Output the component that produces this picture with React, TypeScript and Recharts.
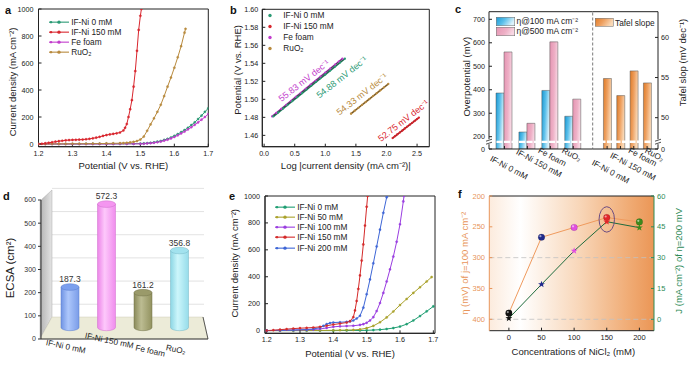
import React from 'react';
import {
  LineChart, Line, XAxis, YAxis, ReferenceArea, ReferenceLine, ReferenceDot,
  Legend, BarChart, Bar, ComposedChart, LabelList, CartesianGrid,
} from 'recharts';

const FONT = '"Liberation Sans", Arial, Helvetica, sans-serif';
const INK = '#222222';

/* ---------------- panel a : LSV curves (V vs RHE, mA cm-2) ---------------- */
const aIFNi0 = [[1.20,0],[1.22,0],[1.24,0],[1.26,0],[1.28,0],[1.30,0],[1.32,0],[1.34,1],[1.36,1],[1.38,1],[1.40,1],[1.42,1],[1.44,1],[1.46,2],[1.48,2],[1.50,3],[1.51,4],[1.52,6],[1.53,9],[1.54,12],[1.55,17],[1.56,22],[1.57,30],[1.58,38],[1.59,48],[1.60,60],[1.61,73],[1.62,88],[1.63,103],[1.64,120],[1.65,140],[1.66,160],[1.67,185],[1.68,210],[1.69,238],[1.70,265]];
const aIFNi150 = [[1.20,0],[1.21,2],[1.22,5],[1.23,9],[1.24,13],[1.25,17],[1.26,21],[1.27,24],[1.28,27],[1.29,29],[1.30,30],[1.31,31],[1.32,32],[1.33,33],[1.34,35],[1.35,38],[1.36,42],[1.37,47],[1.38,53],[1.39,60],[1.40,66],[1.41,71],[1.42,75],[1.43,79],[1.44,85],[1.45,100],[1.455,120],[1.46,148],[1.465,200],[1.47,258],[1.475,325],[1.48,425],[1.485,540],[1.49,690],[1.495,845],[1.50,950],[1.503,1000]];
const aFeFoam = [[1.20,0],[1.22,0],[1.24,0],[1.26,0],[1.28,0],[1.30,0],[1.32,0],[1.34,0],[1.36,0],[1.38,0],[1.40,0],[1.42,0],[1.44,1],[1.46,1],[1.48,1],[1.50,1],[1.51,2],[1.52,4],[1.53,6],[1.54,9],[1.55,13],[1.56,18],[1.57,25],[1.58,32],[1.59,41],[1.60,52],[1.61,64],[1.62,78],[1.63,92],[1.64,108],[1.65,124],[1.66,142],[1.67,160],[1.68,180],[1.69,200],[1.70,222]];
const aRuO2 = [[1.20,0],[1.22,0],[1.24,1],[1.26,1],[1.28,1],[1.30,2],[1.32,2],[1.34,2],[1.36,3],[1.38,3],[1.40,4],[1.42,5],[1.44,6],[1.45,7],[1.46,9],[1.47,12],[1.48,16],[1.49,22],[1.50,33],[1.51,55],[1.52,98],[1.53,145],[1.54,190],[1.55,238],[1.56,290],[1.57,355],[1.58,425],[1.59,492],[1.60,565],[1.61,642],[1.62,725],[1.63,825],[1.633,853]];
const lsvTicksX = [1.2, 1.3, 1.4, 1.5, 1.6, 1.7];
const lsvTicksY = [0, 200, 400, 600, 800, 1000];
const sampleNames = ['IF-Ni 0 mM', 'IF-Ni 150 mM', 'Fe foam', 'RuO₂'];

/* ---------------- panel b : Tafel plots (log j, V) ---------------- */
const bIFNi0 = [[0.15,1.4810],[0.23,1.4854],[0.31,1.4898],[0.38,1.4936],[0.46,1.4980],[0.54,1.5024],[0.62,1.5068],[0.69,1.5106],[0.77,1.5150],[0.85,1.5194],[0.92,1.5233],[1.00,1.5276],[1.08,1.5320],[1.16,1.5364],[1.24,1.5408],[1.32,1.5452]];
const bFeFoam = [[0.13,1.4810],[0.20,1.4849],[0.28,1.4894],[0.36,1.4938],[0.44,1.4983],[0.52,1.5028],[0.60,1.5072],[0.68,1.5117],[0.76,1.5162],[0.84,1.5206],[0.92,1.5251],[1.00,1.5296],[1.08,1.5340],[1.16,1.5385],[1.22,1.5419],[1.28,1.5452]];
const bRuO2 = [[1.42,1.4840],[1.48,1.4873],[1.54,1.4905],[1.60,1.4938],[1.66,1.4970],[1.72,1.5003],[1.78,1.5036],[1.84,1.5068],[1.90,1.5101],[1.96,1.5133],[2.03,1.5171]];
const bIFNi150 = [[2.10,1.4570],[2.14,1.4591],[2.18,1.4612],[2.22,1.4633],[2.26,1.4654],[2.30,1.4676],[2.34,1.4697],[2.38,1.4718],[2.42,1.4739],[2.46,1.4760],[2.50,1.4781],[2.53,1.4797]];
const bTicksX = [0, 0.5, 1, 1.5, 2, 2.5];
const bTicksY = [1.46, 1.48, 1.5, 1.52, 1.54, 1.56, 1.58, 1.6];

/* ---------------- panel c : overpotentials & Tafel slopes ---------------- */
const cEta100 = [386, 220, 397, 287];
const cEta500 = [561, 257, 604, 360];
const cTafel = [54.88, 52.75, 55.83, 54.33];
const cTicksLeft = [200, 300, 400, 500, 600, 700];
const cTicksRight = [50, 55, 60];

/* ---------------- panel d : ECSA ---------------- */
const dECSA = [187.3, 572.3, 161.2, 356.8];
const dTicks = [0, 100, 200, 300, 400, 500, 600];

/* ---------------- panel e : LSV, NiCl2 series ---------------- */
const eNames = ['IF-Ni 0 mM', 'IF-Ni 50 mM', 'IF-Ni 100 mM', 'IF-Ni 150 mM', 'IF-Ni 200 mM'];
const eIFNi0 = [[1.20,0],[1.24,0],[1.28,0],[1.32,0],[1.36,0],[1.40,0],[1.44,1],[1.48,1],[1.50,2],[1.52,4],[1.54,7],[1.56,12],[1.58,19],[1.60,30],[1.62,48],[1.64,75],[1.66,108],[1.68,143],[1.70,180]];
const eIFNi50 = [[1.20,0],[1.24,0],[1.28,0],[1.32,1],[1.36,1],[1.40,2],[1.42,3],[1.44,4],[1.46,5],[1.48,9],[1.50,18],[1.52,35],[1.54,62],[1.56,98],[1.58,142],[1.60,190],[1.62,235],[1.64,280],[1.66,322],[1.68,365],[1.695,398]];
const eIFNi100 = [[1.20,0],[1.24,2],[1.28,4],[1.32,6],[1.34,8],[1.36,12],[1.38,20],[1.40,28],[1.42,32],[1.44,34],[1.46,36],[1.48,42],[1.49,48],[1.50,58],[1.51,75],[1.52,100],[1.53,145],[1.54,205],[1.55,280],[1.56,365],[1.57,455],[1.58,550],[1.59,660],[1.60,790],[1.61,960],[1.612,1000]];
const eIFNi150 = [[1.20,0],[1.22,3],[1.24,7],[1.26,11],[1.28,15],[1.30,18],[1.32,20],[1.34,23],[1.36,28],[1.38,36],[1.40,45],[1.42,52],[1.44,60],[1.45,70],[1.46,100],[1.465,150],[1.47,220],[1.475,310],[1.48,410],[1.485,520],[1.49,640],[1.495,780],[1.50,920],[1.503,1000]];
const eIFNi200 = [[1.20,0],[1.24,2],[1.28,4],[1.32,8],[1.34,12],[1.36,22],[1.37,35],[1.38,48],[1.39,56],[1.40,60],[1.42,62],[1.44,65],[1.45,68],[1.46,75],[1.47,90],[1.48,110],[1.49,170],[1.50,270],[1.51,380],[1.52,500],[1.53,625],[1.54,750],[1.55,875],[1.56,990],[1.561,1000]];

/* ---------------- panel f : eta and J vs NiCl2 concentration ---------------- */
const fConc = [0, 50, 100, 150, 200];
const fEta = [390, 267, 251, 235, 242];
const fJ = [0.5, 17, 33.3, 47.5, 44.6];
const fTicksX = [0, 50, 100, 150, 200];
const fTicksEta = [200, 250, 300, 350, 400];
const fTicksJ = [0, 15, 30, 45, 60];

/* ---------------- styling helpers ---------------- */
const C_G = '#2a9a74', C_R = '#d8262e', C_FE = '#c23ccc', C_RU = '#b88a3e';
const E_COL = ['#1f9e72', '#aaa22c', '#9a3ee0', '#d42a2a', '#3e66d6'];
const F_OR = '#e8955a', F_GR = '#2e8b57';
const fDotColors = ['#111111', '#1f2a8c', '#e14fe0', '#e3262a', '#3d8a1c'];

const tk = (size = 7.2, fill = INK) => ({ fontSize: size, fill, fontFamily: FONT });
const vLabel = (x: number, y: number, text: string, size = 9.5, color = INK) => ({
  content: () => (
    <text x={x} y={y} transform={`rotate(-90 ${x} ${y})`} textAnchor="middle" dominantBaseline="central"
      fontSize={size} fontFamily={FONT} fill={color}>{text}</text>
  ),
});
const hLabel = (x: number, y: number, text: string, size = 9.5, color = INK) => ({
  content: () => (
    <text x={x} y={y} textAnchor="middle" dominantBaseline="central" fontSize={size} fontFamily={FONT} fill={color}>{text}</text>
  ),
});
const toVJ = (arr: number[][]) => arr.map(([v, j]) => ({ v, j }));
const toXY = (arr: number[][]) => arr.map(([x, y]) => ({ x, y }));

const LineLegend = ({ items, rowH, fontSize, sampleW, gap, markerOnly }: any) => (
  <div style={{ fontFamily: FONT, fontSize, color: INK, whiteSpace: 'nowrap' }}>
    {items.map((it: any) => (
      <div key={it.label} style={{ display: 'flex', alignItems: 'center', height: rowH }}>
        <svg width={sampleW} height={rowH} style={{ display: 'block', flex: 'none' }}>
          {!markerOnly && <line x1={0} x2={sampleW} y1={rowH / 2} y2={rowH / 2} stroke={it.color} strokeWidth={1.1} />}
          {!markerOnly && <circle cx={2} cy={rowH / 2} r={1.2} fill={it.color} />}
          <circle cx={sampleW / 2} cy={rowH / 2} r={1.7} fill={it.color} />
        </svg>
        <span style={{ marginLeft: gap, lineHeight: `${rowH}px` }}>{it.label}</span>
      </div>
    ))}
  </div>
);

const SwatchLegend = ({ items, rowH, fontSize, swW, swH, gap }: any) => (
  <div style={{ fontFamily: FONT, fontSize, color: INK, whiteSpace: 'nowrap' }}>
    {items.map((it: any) => (
      <div key={it.label} style={{ display: 'flex', alignItems: 'center', height: rowH }}>
        <svg width={swW} height={swH} style={{ display: 'block', flex: 'none' }}>
          <rect x={0.25} y={0.25} width={swW - 0.5} height={swH - 0.5} fill={it.fill} stroke="#666" strokeWidth={0.5} />
        </svg>
        <span style={{ marginLeft: gap, lineHeight: `${rowH}px` }}>{it.label}</span>
      </div>
    ))}
  </div>
);

const legendProps = { layout: 'vertical' as const, align: 'center' as const, verticalAlign: 'middle' as const };

/* ---------------- gradients ---------------- */
const dPalette = [
  { body: ['#6f93e3', '#adc7fb', '#7a9ce8'], top: '#7b9fee', edge: '#5a7ccc' },
  { body: ['#ec84e8', '#fdc8fb', '#f08ced'], top: '#f496f0', edge: '#cf6fcc' },
  { body: ['#8a8a5a', '#bcbc92', '#92925f'], top: '#9a9a6a', edge: '#72724a' },
  { body: ['#8cd6e4', '#ccf6fb', '#96dcea'], top: '#a2e2ee', edge: '#74b6c4' },
];

function GlobalDefs() {
  return (
    <svg width={0} height={0} style={{ position: 'absolute', left: 0, top: 0 }}>
      <defs>
        <linearGradient id="cBlue" x1="0" y1="0" x2="1" y2="0.35">
          <stop offset="0" stopColor="#1898d4" /><stop offset="0.5" stopColor="#5cc0ea" /><stop offset="1" stopColor="#dcf2fb" />
        </linearGradient>
        <linearGradient id="cPink" x1="0" y1="0" x2="1" y2="0.3">
          <stop offset="0" stopColor="#e594b2" /><stop offset="0.6" stopColor="#eeb0c6" /><stop offset="1" stopColor="#f8d8e4" />
        </linearGradient>
        <linearGradient id="cOrange" x1="0" y1="0" x2="1" y2="0.35">
          <stop offset="0" stopColor="#df7a25" /><stop offset="0.5" stopColor="#eea060" /><stop offset="1" stopColor="#f9d8b6" />
        </linearGradient>
        {dPalette.map((p, i) => (
          <linearGradient key={i} id={`dCyl${i}`} x1="0" y1="0" x2="1" y2="0">
            <stop offset="0" stopColor={p.body[0]} /><stop offset="0.4" stopColor={p.body[1]} /><stop offset="1" stopColor={p.body[2]} />
          </linearGradient>
        ))}
        <linearGradient id="dWall" x1="0" y1="0" x2="1" y2="0">
          <stop offset="0" stopColor="#b3b3b3" /><stop offset="1" stopColor="#e4e4e4" />
        </linearGradient>
        <linearGradient id="fBg" x1="0" y1="0" x2="1" y2="0">
          <stop offset="0" stopColor="#fcebdd" /><stop offset="0.19" stopColor="#ffffff" />
          <stop offset="0.55" stopColor="#f8d6b8" /><stop offset="0.85" stopColor="#f0ab74" /><stop offset="1" stopColor="#eb9656" />
        </linearGradient>
      </defs>
    </svg>
  );
}

/* ---------------- LSV panel (a, e) ---------------- */
function LsvPanel({ left, top, width, height, margin, xDomain, series, legendItems, legendPos, xTitle, yTitle }: any) {
  return (
    <div style={{ position: 'absolute', left, top }}>
      <LineChart width={width} height={height} margin={margin}>
        <XAxis type="number" dataKey="v" domain={xDomain} ticks={lsvTicksX} interval={0} allowDataOverflow
          tickFormatter={(v: number) => v.toFixed(1)} height={30} stroke={INK} tick={tk()} tickSize={-3} tickMargin={7} label={xTitle} />
        <YAxis type="number" domain={[-20, 1000]} ticks={lsvTicksY} interval={0} allowDataOverflow width={30}
          stroke={INK} tick={tk()} tickSize={-3} tickMargin={8} label={yTitle} />
        <ReferenceArea x1={xDomain[0]} x2={xDomain[1]} y1={-20} y2={1000} fill="none" fillOpacity={0} stroke={INK} strokeWidth={1} />
        {series.map((s: any) => (
          <Line key={s.name} name={s.name} data={toVJ(s.data)} dataKey="j" type="linear" stroke={s.color} strokeWidth={1}
            dot={{ r: 1.1, fill: s.color, stroke: s.color, strokeWidth: 0.4 }} isAnimationActive={false} />
        ))}
        <Legend {...legendProps} wrapperStyle={{ left: legendPos[0], top: legendPos[1], width: 'auto', height: 'auto' }}
          content={() => <LineLegend items={legendItems} rowH={10.3} fontSize={8.3} sampleW={20} gap={2.2} />} />
      </LineChart>
    </div>
  );
}

function PanelA() {
  const series = [
    { name: sampleNames[0], data: aIFNi0, color: C_G },
    { name: sampleNames[2], data: aFeFoam, color: C_FE },
    { name: sampleNames[3], data: aRuO2, color: C_RU },
    { name: sampleNames[1], data: aIFNi150, color: C_R },
  ];
  const legendItems = [
    { label: sampleNames[0], color: C_G }, { label: sampleNames[1], color: C_R },
    { label: sampleNames[2], color: C_FE }, { label: sampleNames[3], color: C_RU },
  ];
  return (
    <LsvPanel left={0} top={0} width={230} height={185} margin={{ top: 9, right: 21.7, bottom: 8.3, left: 8.5 }}
      xDomain={[1.2, 1.7]} series={series} legendItems={legendItems} legendPos={[49, 16.5]}
      xTitle={hLabel(123.4, 165, 'Potential (V vs. RHE)')} yTitle={vLabel(12, 82, 'Current density (mA cm⁻²)')} />
  );
}

function PanelE() {
  const datas = [eIFNi0, eIFNi50, eIFNi100, eIFNi200, eIFNi150];
  const idx = [0, 1, 2, 4, 3];
  const series = idx.map((k, i) => ({ name: eNames[k], data: datas[i], color: E_COL[k] }));
  const legendItems = eNames.map((n, i) => ({ label: n, color: E_COL[i] }));
  return (
    <LsvPanel left={230} top={185} width={230} height={184} margin={{ top: 11, right: 25, bottom: 5.7, left: 5 }}
      xDomain={[1.195, 1.705]} series={series} legendItems={legendItems} legendPos={[45, 16.6]}
      xTitle={hLabel(120, 168.3, 'Potential (V vs. RHE)')} yTitle={vLabel(5, 78.3, 'Current density (mA cm⁻²)')} />
  );
}

/* ---------------- panel b ---------------- */
function PanelB() {
  const series = [
    { name: sampleNames[2], data: bFeFoam, color: C_FE, t: cTafel[2] },
    { name: sampleNames[0], data: bIFNi0, color: C_G, t: cTafel[0] },
    { name: sampleNames[3], data: bRuO2, color: C_RU, t: cTafel[3] },
    { name: sampleNames[1], data: bIFNi150, color: C_R, t: cTafel[1] },
  ];
  const notes = [
    { x: 0.652, y: 1.5207, s: series[0] },
    { x: 1.27, y: 1.5245, s: series[1] },
    { x: 1.60, y: 1.5056, s: series[2] },
    { x: 2.276, y: 1.4762, s: series[3] },
  ];
  const legendItems = [
    { label: sampleNames[0], color: C_G }, { label: sampleNames[1], color: C_R },
    { label: sampleNames[2], color: C_FE }, { label: sampleNames[3], color: C_RU },
  ];
  return (
    <div style={{ position: 'absolute', left: 230, top: 0 }}>
      <LineChart width={230} height={185} margin={{ top: 9.3, right: 30.7, bottom: 8.3, left: 2.3 }}>
        <XAxis type="number" dataKey="x" domain={[-0.03, 2.7]} ticks={bTicksX} interval={0} allowDataOverflow
          tickFormatter={(v: number) => v.toFixed(1)} height={30} stroke={INK} tick={tk()} tickSize={-3} tickMargin={7}
          label={hLabel(115.8, 165, 'Log |current density (mA cm⁻²)|')} />
        <YAxis type="number" domain={[1.4474, 1.6]} ticks={bTicksY} interval={0} allowDataOverflow width={30}
          tickFormatter={(v: number) => v.toFixed(2)} stroke={INK} tick={tk()} tickSize={-3} tickMargin={7}
          label={vLabel(7.3, 70, 'Potential (V vs. RHE)')} />
        <ReferenceArea x1={-0.03} x2={2.7} y1={1.4474} y2={1.6} fill="none" fillOpacity={0} stroke={INK} strokeWidth={1} />
        {series.map((s) => (
          <Line key={s.name} data={toXY(s.data)} dataKey="y" stroke={s.color} strokeWidth={1.8}
            dot={{ r: 1.15, fill: s.color, stroke: 'none' }} isAnimationActive={false} />
        ))}
        {series.map((s) => (
          <Line key={'fit' + s.name} data={toXY([s.data[0], s.data[s.data.length - 1]])} dataKey="y" stroke="#333"
            strokeWidth={0.7} dot={false} isAnimationActive={false} />
        ))}
        {notes.map((n, i) => (
          <ReferenceDot key={i} x={n.x} y={n.y} r={0}
            shape={(p: any) => (
              <text x={p.cx} y={p.cy} transform={`rotate(-38 ${p.cx} ${p.cy})`} textAnchor="middle" dominantBaseline="central"
                fontSize={9} fontFamily={FONT} fill={n.s.color}>{`${n.s.t.toFixed(2)} mV dec⁻¹`}</text>
            )} />
        ))}
        <Legend {...legendProps} wrapperStyle={{ left: 35, top: 10.2, width: 'auto', height: 'auto' }}
          content={() => <LineLegend items={legendItems} rowH={11} fontSize={8.3} sampleW={10} gap={8.3} markerOnly />} />
      </LineChart>
    </div>
  );
}

/* ---------------- panel c ---------------- */
const makeCTick = (dxs: number[], tops: number[]) => (props: any) => {
  const { x, payload, index } = props;
  const bx = x + dxs[index] - 2.9;
  const by = tops[index] + 5.5;
  return (
    <text x={bx} y={by} transform={`rotate(28 ${bx} ${by})`} fontSize={8.3} fontFamily={FONT} fill={INK}>{payload.value}</text>
  );
};
const cTickLeft = makeCTick([-12, -9, -10, -9], [155, 148.3, 146.7, 146.7]);
const cTickRight = makeCTick([-13, -8, -3, 0], [159, 151.7, 146.7, 146.7]);

function PanelC() {
  const leftData = sampleNames.map((name, i) => ({ name, e100: cEta100[i], e500: cEta500[i] }));
  const rightData = sampleNames.map((name, i) => ({ name, t: cTafel[i] }));
  const LD = [147.6, 732.4];
  const RD = [46.1, 63.2];
  return (
    <>
      <div style={{ position: 'absolute', left: 460, top: 0 }}>
        <BarChart width={140} height={200} data={leftData} margin={{ top: 11.7, right: 7.3, bottom: 21, left: 4 }} barGap={0}>
          <XAxis dataKey="name" padding={{ left: 4, right: 8 }} height={30} interval={0} stroke={INK}
            tickSize={-3} tickMargin={3} tick={cTickLeft} />
          <YAxis domain={LD} ticks={[LD[0], ...cTicksLeft]} interval={0} allowDataOverflow width={25} stroke={INK}
            tick={tk()} tickSize={-3} tickMargin={7} tickFormatter={(v: number) => (v < 150 ? '0' : String(v))}
            label={vLabel(6.7, 76.7, 'Overpotential (mV)')} />
          <ReferenceLine y={LD[1]} stroke={INK} strokeWidth={1} />
          <Bar dataKey="e100" barSize={8} fill="url(#cBlue)" stroke="#555" strokeWidth={0.5} isAnimationActive={false} />
          <Bar dataKey="e500" barSize={8} fill="url(#cPink)" stroke="#555" strokeWidth={0.5} isAnimationActive={false} />
          <ReferenceLine y={178} stroke="#ffffff" strokeWidth={2.4} strokeDasharray="6 1.5" />
          <Legend {...legendProps} wrapperStyle={{ left: 36, top: 16, width: 'auto', height: 'auto' }}
            content={() => (
              <SwatchLegend rowH={10.4} fontSize={8.5} swW={19} swH={9} gap={1.5}
                items={[{ label: 'η@100 mA cm⁻²', fill: 'url(#cBlue)' }, { label: 'η@500 mA cm⁻²', fill: 'url(#cPink)' }]} />
            )} />
        </BarChart>
      </div>
      <div style={{ position: 'absolute', left: 585, top: 0 }}>
        <BarChart width={107} height={200} data={rightData} margin={{ top: 11.7, right: 12, bottom: 21, left: 7.7 }}>
          <XAxis dataKey="name" padding={{ left: 7.75, right: 4.25 }} height={30} interval={0} stroke={INK}
            tickSize={-3} tickMargin={3} tick={cTickRight} />
          <YAxis orientation="right" domain={RD} ticks={[RD[0], ...cTicksRight]} interval={0} allowDataOverflow
            width={22} stroke={INK} tick={tk()} tickSize={-3} tickMargin={6}
            tickFormatter={(v: number) => (v < 47 ? '0' : String(v))} label={vLabel(97, 62.5, 'Tafel slop (mV dec⁻¹)')} />
          <ReferenceLine y={RD[1]} stroke={INK} strokeWidth={1} />
          <Bar dataKey="t" barSize={8} fill="url(#cOrange)" stroke="#555" strokeWidth={0.5} isAnimationActive={false} />
          <ReferenceLine y={47.0} stroke="#ffffff" strokeWidth={2.4} strokeDasharray="6 1.5" />
          <Legend {...legendProps} wrapperStyle={{ left: 10, top: 17.5, width: 'auto', height: 'auto' }}
            content={() => (
              <SwatchLegend rowH={10} fontSize={8.3} swW={18.5} swH={8.5} gap={1.5}
                items={[{ label: 'Tafel slope', fill: 'url(#cOrange)' }]} />
            )} />
        </BarChart>
      </div>
    </>
  );
}

/* ---------------- panel d ---------------- */
const D_LIFT = 11.6;
const D_SQUASH = 0.93;
const Cylinder = (p: any) => {
  const { x, y, width, height, index } = p;
  if (x == null || !height) return null;
  const pal = dPalette[index % dPalette.length];
  const base = y + height - D_LIFT;
  const top = base - height * D_SQUASH;
  const rx = width / 2;
  const ry = 3.3;
  return (
    <g>
      <path d={`M${x},${top} L${x},${base} A${rx},${ry} 0 0 0 ${x + width},${base} L${x + width},${top} Z`}
        fill={`url(#dCyl${index})`} stroke={pal.edge} strokeWidth={0.5} />
      <ellipse cx={x + rx} cy={top} rx={rx} ry={ry} fill={pal.top} stroke={pal.edge} strokeWidth={0.5} />
    </g>
  );
};
const DValue = (p: any) => {
  const vb = p.viewBox && p.viewBox.width != null ? p.viewBox : p;
  const { x, y, width, height } = vb;
  const top = y + height - D_LIFT - height * D_SQUASH;
  return (
    <text x={x + width / 2} y={top - 4.8} textAnchor="middle" fontSize={8.5} fontFamily={FONT} fill="#333">
      {Number(p.value).toFixed(1)}
    </text>
  );
};
const dDx = [-4.5, 2.5, 7, -4];
const dCy = [161.7, 155.8, 166, 164.7];
const DTick = (p: any) => {
  const { x, payload, index } = p;
  const cx = x + dDx[index];
  const cy = dCy[index];
  return (
    <text x={cx} y={cy} transform={`rotate(12 ${cx} ${cy})`} textAnchor="middle" dominantBaseline="central"
      fontSize={8.2} fontFamily={FONT} fill={INK}>{payload.value}</text>
  );
};

function PanelDUnderlay() {
  const scale = 139 / 600;
  return (
    <svg width={230} height={184} style={{ position: 'absolute', left: 0, top: 185 }}>
      {dTicks.slice(1).map((t) => {
        const yy = 154 - t * scale - D_LIFT;
        return <line key={t} x1={52} x2={204} y1={yy} y2={yy} stroke="#cfcfcf" strokeWidth={0.6} />;
      })}
      <polygon points="40,16 52,5 52,132 40,154" fill="url(#dWall)" stroke="#9a9a9a" strokeWidth={0.4} />
      <polygon points="40,154 208,154 203,132 52,132" fill="#ecebd8" stroke="#c4c2ad" strokeWidth={0.4} />
      <line x1={208} y1={154} x2={203} y2={132} stroke="#333" strokeWidth={0.8} />
    </svg>
  );
}

function PanelD() {
  const data = sampleNames.map((name, i) => ({ name, v: dECSA[i] }));
  return (
    <div style={{ position: 'absolute', left: 0, top: 185 }}>
      <BarChart width={230} height={184} data={data} margin={{ top: 15, right: 22, bottom: 0, left: 11 }}>
        <XAxis dataKey="name" padding={{ left: 11, right: 10 }} height={30} interval={0} stroke="#333" tickLine={false} tick={DTick} />
        <YAxis domain={[0, 600]} ticks={dTicks} interval={0} width={30} stroke="#333" tick={tk(7, '#333')} tickSize={3} tickMargin={2}
          label={vLabel(10, 83, 'ECSA (cm²)', 11.5)} />
        <Bar dataKey="v" barSize={18} shape={Cylinder} isAnimationActive={false}>
          <LabelList dataKey="v" content={DValue} />
        </Bar>
      </BarChart>
    </div>
  );
}

/* ---------------- panel f ---------------- */
const starPath = (cx: number, cy: number, R: number, r: number) => {
  let d = '';
  for (let k = 0; k < 10; k++) {
    const ang = -Math.PI / 2 + (k * Math.PI) / 5;
    const rad = k % 2 === 0 ? R : r;
    d += (k === 0 ? 'M' : 'L') + (cx + rad * Math.cos(ang)).toFixed(2) + ',' + (cy + rad * Math.sin(ang)).toFixed(2);
  }
  return d + 'Z';
};
const FCircle = (p: any) => {
  if (p.cx == null) return null;
  const c = fDotColors[p.index];
  return (
    <g>
      <circle cx={p.cx} cy={p.cy} r={3.3} fill={c} stroke="rgba(0,0,0,0.3)" strokeWidth={0.4} />
      <circle cx={p.cx - 1.1} cy={p.cy - 1.1} r={1.1} fill="#fff" fillOpacity={0.55} />
    </g>
  );
};
const FStar = (p: any) => {
  if (p.cx == null) return null;
  return <path d={starPath(p.cx, p.cy, 3.6, 1.5)} fill={fDotColors[p.index]} />;
};

function PanelF() {
  const data = fConc.map((c, i) => ({ c, eta: fEta[i], j: fJ[i] }));
  const XD = [-30, 222.4];
  const ED = [200, 418.5];
  return (
    <div style={{ position: 'absolute', left: 460, top: 185 }}>
      <ComposedChart width={232} height={184} data={data} margin={{ top: 11, right: 14, bottom: 8.3, left: 5.3 }}>
        <CartesianGrid horizontal={false} vertical={false} fill="url(#fBg)" fillOpacity={1} stroke="none" />
        <XAxis type="number" dataKey="c" domain={XD} ticks={fTicksX} interval={0} allowDataOverflow height={30} stroke={INK}
          tick={tk(7.5)} tickSize={-3} tickMargin={7} label={hLabel(113.3, 166.7, 'Concentrations of NiCl₂ (mM)')} />
        <YAxis domain={ED} reversed ticks={fTicksEta} interval={0} allowDataOverflow width={24} stroke={F_OR}
          tick={tk(7.5, F_OR)} tickSize={-3} tickMargin={7.3} label={vLabel(5, 78.3, 'η (mV) of j=100 mA cm⁻²', 9.5, F_OR)} />
        <YAxis yAxisId="j" orientation="right" domain={[-5.55, 60]} ticks={fTicksJ} interval={0} allowDataOverflow width={24}
          stroke={F_GR} tick={tk(7.5, F_GR)} tickSize={-3} tickMargin={6}
          label={vLabel(218.3, 75.8, 'J (mA cm⁻²) of η=200 mV', 9.5, F_GR)} />
        <ReferenceLine y={300} stroke="#c2c2c2" strokeDasharray="5 3" strokeWidth={0.8} />
        <ReferenceLine y={400} stroke="#c2c2c2" strokeDasharray="5 3" strokeWidth={0.8} />
        <ReferenceLine y={ED[0]} stroke={INK} strokeWidth={1} />
        <Line dataKey="eta" type="linear" stroke="#ef9a5d" strokeWidth={1} isAnimationActive={false}
          dot={(p: any) => <FCircle key={`c${p.index}`} {...p} />} />
        <Line yAxisId="j" dataKey="j" type="linear" stroke="#1e6b3c" strokeWidth={1} isAnimationActive={false}
          dot={(p: any) => <FStar key={`s${p.index}`} {...p} />} />
        <ReferenceDot x={150} y={238} r={0}
          shape={(p: any) => <ellipse cx={p.cx} cy={p.cy} rx={7.7} ry={12.7} fill="none" stroke="#5b3f80" strokeWidth={0.9} />} />
      </ComposedChart>
    </div>
  );
}

/* ---------------- overlay: panel letters, axis breaks, divider ---------------- */
function Overlay() {
  const letter = (x: number, y: number, t: string) => (
    <text x={x} y={y} fontSize={11} fontWeight="bold" fontFamily={FONT} fill="#111">{t}</text>
  );
  const brk = (x: number, y: number) => (
    <g>
      <rect x={x - 3} y={y - 2.5} width={6} height={5} fill="#fff" />
      <path d={`M${x - 3},${y - 0.5} L${x + 3},${y - 2.5} M${x - 3},${y + 2.5} L${x + 3},${y + 0.5}`} stroke={INK} strokeWidth={0.8} fill="none" />
    </g>
  );
  return (
    <svg width={692} height={369} style={{ position: 'absolute', left: 0, top: 0, pointerEvents: 'none' }}>
      {letter(5, 14, 'a')}
      {letter(230, 14, 'b')}
      {letter(455, 13, 'c')}
      {letter(3, 200, 'd')}
      {letter(229, 200, 'e')}
      {letter(458, 198, 'f')}
      <line x1={592.7} x2={592.7} y1={12.5} y2={149} stroke="#555" strokeWidth={0.8} strokeDasharray="3 2" />
      {brk(489, 141.7)}
      {brk(658, 141.7)}
    </svg>
  );
}

export default function App() {
  return (
    <div style={{ position: 'absolute', left: 0, top: 0, width: 692, height: 369, background: '#fff', fontFamily: FONT, overflow: 'hidden' }}>
      <GlobalDefs />
      <PanelA />
      <PanelB />
      <PanelC />
      <PanelDUnderlay />
      <PanelD />
      <PanelE />
      <PanelF />
      <Overlay />
    </div>
  );
}
